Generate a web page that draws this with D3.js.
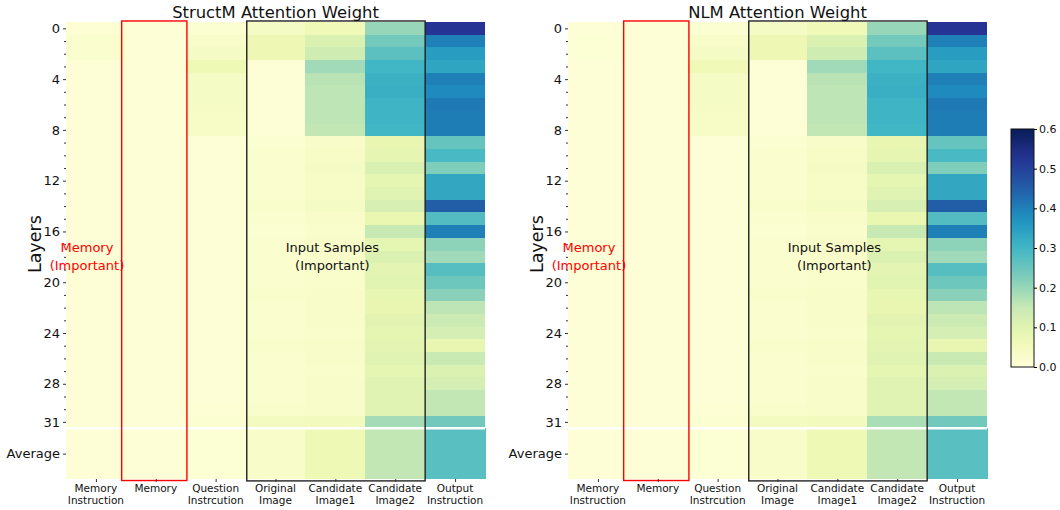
<!DOCTYPE html>
<html>
<head>
<meta charset="utf-8">
<script src="https://cdn.jsdelivr.net/npm/d3@7"></script>
<style>
  body { margin: 0; background: #fff; }
  text { font-family: "DejaVu Sans", sans-serif; }
</style>
</head>
<body>
<svg width="1060" height="510"></svg>
<script>
// column labels, row tick labels
const categories = ["Memory\nInstruction", "Memory", "Question\nInstrcution", "Original\nImage",
  "Candidate\nImage1", "Candidate\nImage2", "Output\nInstruction"];
const layerTicks = [0, 4, 8, 12, 16, 20, 24, 28, 31];
const cbarTicks = [0, 0.1, 0.2, 0.3, 0.4, 0.5, 0.6];

// StructM attention, one array per column, layers 0..31
const sMemInstr = [0.01,0.02,0.02,0.008,0.008,0.008,0.008,0.008,0.008,0.008,0.008,0.008,0.008,0.008,0.008,0.008,
  0.008,0.008,0.008,0.008,0.008,0.008,0.008,0.008,0.008,0.008,0.008,0.008,0.008,0.008,0.008,0.008];
const sMemory = [0.008,0.008,0.008,0.008,0.008,0.008,0.008,0.008,0.008,0.008,0.008,0.008,0.008,0.008,0.008,0.008,
  0.008,0.008,0.008,0.008,0.008,0.008,0.008,0.008,0.008,0.008,0.008,0.008,0.008,0.008,0.008,0.008];
const sQuestion = [0.015,0.03,0.04,0.065,0.04,0.04,0.04,0.035,0.035,0.008,0.008,0.008,0.008,0.008,0.008,0.008,
  0.008,0.008,0.008,0.008,0.008,0.008,0.008,0.008,0.008,0.008,0.008,0.008,0.008,0.008,0.01,0.015];
const sOrigImage = [0.04,0.07,0.07,0.008,0.008,0.008,0.008,0.008,0.008,0.015,0.02,0.02,0.02,0.02,0.025,0.02,
  0.015,0.02,0.02,0.02,0.02,0.025,0.02,0.02,0.02,0.025,0.02,0.02,0.02,0.02,0.025,0.045];
const sCand1 = [0.06,0.11,0.135,0.19,0.165,0.16,0.16,0.16,0.155,0.03,0.035,0.04,0.035,0.035,0.04,0.03,
  0.025,0.03,0.03,0.025,0.025,0.03,0.03,0.03,0.025,0.03,0.03,0.025,0.03,0.03,0.03,0.05];
const sCand2 = [0.2,0.238,0.266,0.3,0.31,0.315,0.305,0.305,0.3,0.085,0.088,0.115,0.09,0.1,0.118,0.082,
  0.15,0.09,0.11,0.093,0.097,0.087,0.085,0.095,0.09,0.093,0.1,0.09,0.1,0.1,0.1,0.185];
const sOutput = [0.525,0.4,0.353,0.335,0.4,0.385,0.41,0.405,0.405,0.255,0.29,0.225,0.33,0.33,0.45,0.28,
  0.4,0.21,0.19,0.275,0.245,0.215,0.16,0.14,0.125,0.085,0.145,0.11,0.125,0.155,0.155,0.24];
const sAverage = [0.008,0.008,0.012,0.03,0.065,0.155,0.27];

// NLM attention
const nMemInstr = [0.008,0.012,0.012,0.008,0.008,0.008,0.008,0.008,0.008,0.008,0.008,0.008,0.008,0.008,0.008,0.008,
  0.008,0.008,0.008,0.008,0.008,0.008,0.008,0.008,0.008,0.008,0.008,0.008,0.008,0.008,0.008,0.008];
const nMemory = [0.008,0.008,0.008,0.008,0.008,0.008,0.008,0.008,0.008,0.008,0.008,0.008,0.008,0.008,0.008,0.008,
  0.008,0.008,0.008,0.008,0.008,0.008,0.008,0.008,0.008,0.008,0.008,0.008,0.008,0.008,0.008,0.008];
const nQuestion = [0.015,0.03,0.04,0.06,0.04,0.04,0.04,0.035,0.035,0.008,0.008,0.008,0.008,0.008,0.008,0.008,
  0.008,0.008,0.008,0.008,0.008,0.008,0.008,0.008,0.008,0.008,0.008,0.008,0.008,0.008,0.01,0.015];
const nOrigImage = [0.04,0.07,0.07,0.008,0.008,0.008,0.008,0.008,0.008,0.015,0.02,0.02,0.02,0.02,0.025,0.02,
  0.015,0.02,0.02,0.02,0.02,0.025,0.02,0.02,0.02,0.025,0.02,0.02,0.02,0.02,0.025,0.045];
const nCand1 = [0.06,0.11,0.135,0.19,0.165,0.16,0.16,0.16,0.155,0.03,0.035,0.04,0.035,0.035,0.04,0.03,
  0.025,0.03,0.03,0.025,0.025,0.03,0.03,0.03,0.025,0.03,0.03,0.025,0.03,0.03,0.03,0.05];
const nCand2 = [0.2,0.238,0.266,0.3,0.31,0.315,0.305,0.305,0.3,0.085,0.088,0.115,0.09,0.1,0.118,0.082,
  0.15,0.09,0.11,0.093,0.097,0.087,0.085,0.095,0.09,0.093,0.1,0.09,0.1,0.1,0.1,0.18];
const nOutput = [0.525,0.4,0.353,0.335,0.4,0.385,0.41,0.405,0.405,0.255,0.29,0.225,0.33,0.33,0.45,0.28,
  0.4,0.21,0.19,0.275,0.245,0.215,0.16,0.14,0.125,0.085,0.145,0.11,0.125,0.155,0.155,0.24];
const nAverage = [0.008,0.008,0.012,0.03,0.065,0.155,0.27];

// matplotlib's YlGnBu, vmin 0 vmax 0.6
const ylgnbu = ["#ffffd9","#edf8b1","#c7e9b4","#7fcdbb","#41b6c4","#1d91c0","#225ea8","#253494","#081d58"];
const color = d3.scaleLinear()
  .domain(ylgnbu.map((c, i) => i * 0.6 / 8))
  .range(ylgnbu)
  .clamp(true);

const svg = d3.select("svg");

function drawPanel(left, title, columns, average) {
  const x = d3.scaleLinear().domain([0, 7]).range([left, left + 419]);
  const y = d3.scaleLinear().domain([0, 36]).range([22, 479]);
  const g = svg.append("g");

  columns.forEach((vals, c) => {
    g.selectAll(null)
      .data(vals)
      .enter()
      .append("rect")
      .attr("x", x(c))
      .attr("width", x(c + 1) - x(c))
      .attr("y", (d, i) => y(i))
      .attr("height", y(1) - y(0) + 0.5)
      .attr("fill", (d) => color(d))
      .attr("shape-rendering", "crispEdges");
  });

  // average row, four rows tall
  g.selectAll(null)
    .data(average)
    .enter()
    .append("rect")
    .attr("x", (d, c) => x(c))
    .attr("width", x(1) - x(0) + 0.5)
    .attr("y", y(32))
    .attr("height", y(36) - y(32))
    .attr("fill", (d) => color(d))
    .attr("shape-rendering", "crispEdges");

  g.append("line")
    .attr("x1", x(0)).attr("x2", x(7))
    .attr("y1", y(32)).attr("y2", y(32))
    .attr("stroke", "#fff").attr("stroke-width", 2.5);

  // boxes
  g.append("rect")
    .attr("x", x(0.93)).attr("width", x(2.02) - x(0.93))
    .attr("y", y(-0.08)).attr("height", y(36.12) - y(-0.08))
    .attr("fill", "none").attr("stroke", "#f00").attr("stroke-width", 1.4);
  g.append("rect")
    .attr("x", x(3.02)).attr("width", x(6) - x(3.02))
    .attr("y", y(-0.08)).attr("height", y(36.15) - y(-0.08))
    .attr("fill", "none").attr("stroke", "#222").attr("stroke-width", 1.4);

  // y axis
  const yMinor = g.append("g")
    .attr("transform", `translate(${x(0)},0)`)
    .call(d3.axisLeft(y).tickValues(d3.range(32).filter((r) => !layerTicks.includes(r)).map((r) => r + 0.5))
      .tickSize(2).tickFormat(""));
  const yMajor = g.append("g")
    .attr("transform", `translate(${x(0)},0)`)
    .call(d3.axisLeft(y).tickValues(layerTicks.map((r) => r + 0.5).concat([34]))
      .tickSize(3).tickPadding(3)
      .tickFormat((v) => (v === 34 ? "Average" : String(v - 0.5))));
  [yMinor, yMajor].forEach((a) => {
    a.select(".domain").remove();
    a.selectAll("line").attr("stroke", "#333");
  });
  yMajor.selectAll("text").attr("font-size", 13).attr("fill", "#111");

  // x axis
  const xAxis = g.append("g")
    .attr("transform", `translate(0,${y(36)})`)
    .call(d3.axisBottom(x).tickValues(d3.range(7).map((c) => c + 0.5)).tickSize(3).tickFormat(""));
  xAxis.select(".domain").remove();
  xAxis.selectAll("line").attr("stroke", "#333");
  categories.forEach((label, c) => {
    const t = g.append("text")
      .attr("x", x(c + 0.5))
      .attr("y", 492)
      .attr("text-anchor", "middle")
      .attr("font-size", 10.5)
      .attr("fill", "#111");
    label.split("\n").forEach((part, k) => {
      t.append("tspan").attr("x", x(c + 0.5)).attr("dy", k === 0 ? 0 : 12).text(part);
    });
  });

  g.append("text")
    .attr("x", (x(0) + x(7)) / 2)
    .attr("y", 18)
    .attr("text-anchor", "middle")
    .attr("font-size", 16.4)
    .attr("fill", "#111")
    .text(title);

  g.append("text")
    .attr("transform", `translate(${left - 25},${y(17.5)}) rotate(-90)`)
    .attr("text-anchor", "middle")
    .attr("font-size", 17.5)
    .attr("fill", "#111")
    .text("Layers");

  const notes = [
    { at: 0.35, lines: ["Memory", "(Important)"], fill: "#f00" },
    { at: 4.45, lines: ["Input Samples", "(Important)"], fill: "#111" },
  ];
  notes.forEach((n) => {
    const t = g.append("text")
      .attr("x", x(n.at))
      .attr("y", 252)
      .attr("text-anchor", "middle")
      .attr("font-size", 13)
      .attr("fill", n.fill);
    n.lines.forEach((line, k) => {
      t.append("tspan").attr("x", x(n.at)).attr("dy", k === 0 ? 0 : 18).text(line);
    });
  });
}

drawPanel(66, "StructM Attention Weight",
  [sMemInstr, sMemory, sQuestion, sOrigImage, sCand1, sCand2, sOutput], sAverage);
drawPanel(568, "NLM Attention Weight",
  [nMemInstr, nMemory, nQuestion, nOrigImage, nCand1, nCand2, nOutput], nAverage);

// colorbar
const cbY = d3.scaleLinear().domain([0, 0.6]).range([367, 129]);
const grad = svg.append("defs").append("linearGradient")
  .attr("id", "cbar").attr("x1", 0).attr("x2", 0).attr("y1", 1).attr("y2", 0);
grad.selectAll("stop")
  .data(d3.range(0, 1.0001, 0.05))
  .enter()
  .append("stop")
  .attr("offset", (d) => d)
  .attr("stop-color", (d) => color(d * 0.6));
svg.append("rect")
  .attr("x", 1011).attr("y", cbY(0.6))
  .attr("width", 23).attr("height", cbY(0) - cbY(0.6))
  .attr("fill", "url(#cbar)")
  .attr("stroke", "#111").attr("stroke-width", 1);
const cbAxis = svg.append("g")
  .attr("transform", "translate(1034,0)")
  .call(d3.axisRight(cbY).tickValues(cbarTicks).tickSize(3).tickPadding(2).tickFormat(d3.format(".1f")));
cbAxis.select(".domain").remove();
cbAxis.selectAll("text").attr("font-size", 11).attr("fill", "#111");
</script>
</body>
</html>
